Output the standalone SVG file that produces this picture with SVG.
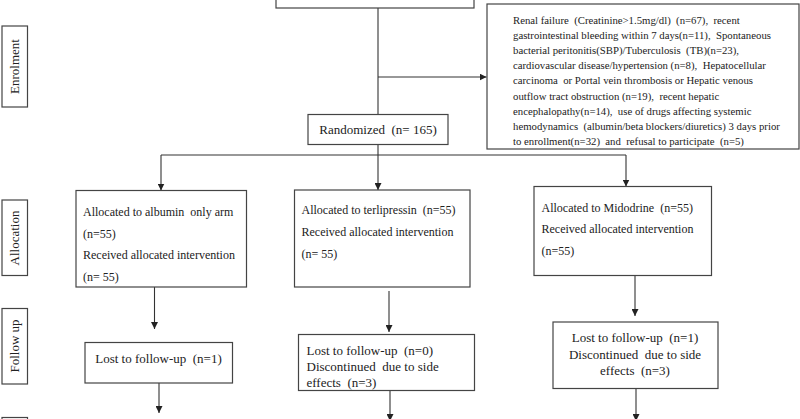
<svg xmlns="http://www.w3.org/2000/svg" width="800" height="419" viewBox="0 0 800 419">
<defs>
<marker id="arr" markerUnits="userSpaceOnUse" markerWidth="7" markerHeight="7" refX="7" refY="3.5" orient="auto">
<path d="M0,0 L7,3.5 L0,7 z" fill="#222"/>
</marker>
<style>
.box{fill:#fff;stroke:#444;stroke-width:1.2}
.t{font-family:"Liberation Serif","Times New Roman",serif;font-size:13px;fill:#222}
.a{font-family:"Liberation Serif","Times New Roman",serif;font-size:12px;fill:#222}
.s{font-family:"Liberation Serif","Times New Roman",serif;font-size:10.75px;fill:#222}
.c{fill:none;stroke:#333;stroke-width:1.1}
</style>
</defs>
<rect width="800" height="419" fill="#fff"/>
<g id="side-enrolment"><rect class="box" x="2" y="26" width="25.5" height="81"/><text class="t" transform="translate(19,66.5) rotate(-90)" text-anchor="middle">Enrolment</text></g>
<g id="side-allocation"><rect class="box" x="2" y="200" width="25.5" height="75.5"/><text class="t" transform="translate(19,238) rotate(-90)" text-anchor="middle">Allocation</text></g>
<g id="side-followup"><rect class="box" x="2" y="308.5" width="25.5" height="75.5"/><text class="t" transform="translate(19,346) rotate(-90)" text-anchor="middle">Follow up</text></g>
<g id="side-analysis"><rect class="box" x="2" y="417.5" width="25.5" height="20"/></g>
<g id="connectors">
<path class="c" d="M378,8 V190" marker-end="url(#arr)"/>
<path class="c" d="M378,77 H486.5" marker-end="url(#arr)"/>
<path class="c" d="M161,155 H626"/>
<path class="c" d="M161,155 V190.5" marker-end="url(#arr)"/>
<path class="c" d="M626,155 V186.5" marker-end="url(#arr)"/>
<path class="c" d="M154.5,287 V329" marker-end="url(#arr)"/>
<path class="c" d="M389,291 V332" marker-end="url(#arr)"/>
<path class="c" d="M635,275.5 V316" marker-end="url(#arr)"/>
<path class="c" d="M159,383 V413" marker-end="url(#arr)"/>
<path class="c" d="M390,391 V421" marker-end="url(#arr)"/>
<path class="c" d="M636,389 V421" marker-end="url(#arr)"/>
</g>
<g id="assessed"><rect class="box" x="276" y="-12" width="198" height="20"/></g>
<g id="excluded"><rect class="box" x="487" y="4" width="312" height="145"/>
<text class="s" xml:space="preserve"><tspan x="513" y="23.5">Renal failure  (Creatinine&gt;1.5mg/dl)  (n=67),  recent</tspan><tspan x="513" y="38.7">gastrointestinal bleeding within 7 days(n=11),  Spontaneous</tspan><tspan x="513" y="53.9">bacterial peritonitis(SBP)/Tuberculosis  (TB)(n=23),</tspan><tspan x="513" y="69.1">cardiovascular disease/hypertension (n=8),  Hepatocellular</tspan><tspan x="513" y="84.3">carcinoma  or Portal vein thrombosis or Hepatic venous</tspan><tspan x="513" y="99.5">outflow tract obstruction (n=19),  recent hepatic</tspan><tspan x="513" y="114.7">encephalopathy(n=14),  use of drugs affecting systemic</tspan><tspan x="513" y="129.9">hemodynamics  (albumin/beta blockers/diuretics) 3 days prior</tspan><tspan x="513" y="145.1">to enrollment(n=32)  and  refusal to participate  (n=5)</tspan></text></g>
<g id="randomized"><rect class="box" x="308" y="114.5" width="140" height="30"/><text class="t" x="378" y="134" text-anchor="middle" xml:space="preserve">Randomized  (n= 165)</text></g>
<g id="alloc-albumin"><rect class="box" x="76" y="190.5" width="170.5" height="96.5"/>
<text class="a" xml:space="preserve"><tspan x="83" y="216">Allocated to albumin  only arm</tspan><tspan x="83" y="237.5">(n=55)</tspan><tspan x="83" y="259">Received allocated intervention</tspan><tspan x="83" y="281">(n= 55)</tspan></text></g>
<g id="alloc-terli"><rect class="box" x="294.5" y="190" width="175.5" height="97"/>
<text class="a" xml:space="preserve"><tspan x="301.5" y="214">Allocated to terlipressin  (n=55)</tspan><tspan x="301.5" y="235.5">Received allocated intervention</tspan><tspan x="301.5" y="257.5">(n= 55)</tspan></text></g>
<g id="alloc-mido"><rect class="box" x="534" y="186.5" width="177.5" height="89"/>
<text class="a" xml:space="preserve"><tspan x="541.5" y="211.5">Allocated to Midodrine  (n=55)</tspan><tspan x="541.5" y="233">Received allocated intervention</tspan><tspan x="541.5" y="255">(n=55)</tspan></text></g>
<g id="fu-albumin"><rect class="box" x="85" y="342.5" width="147.5" height="40.5"/><text class="t" x="158.5" y="362.5" text-anchor="middle" xml:space="preserve">Lost to follow-up  (n=1)</text></g>
<g id="fu-terli"><rect class="box" x="298.5" y="334.5" width="176" height="56"/>
<text class="t" xml:space="preserve"><tspan x="306.5" y="355">Lost to follow-up  (n=0)</tspan><tspan x="306.5" y="371">Discontinued  due to side</tspan><tspan x="306.5" y="386.5">effects  (n=3)</tspan></text></g>
<g id="fu-mido"><rect class="box" x="553" y="322" width="165" height="66.5"/>
<text class="t" text-anchor="middle" xml:space="preserve"><tspan x="635" y="341.5">Lost to follow-up  (n=1)</tspan><tspan x="635" y="358.5">Discontinued  due to side</tspan><tspan x="635" y="375">effects  (n=3)</tspan></text></g>
</svg>
